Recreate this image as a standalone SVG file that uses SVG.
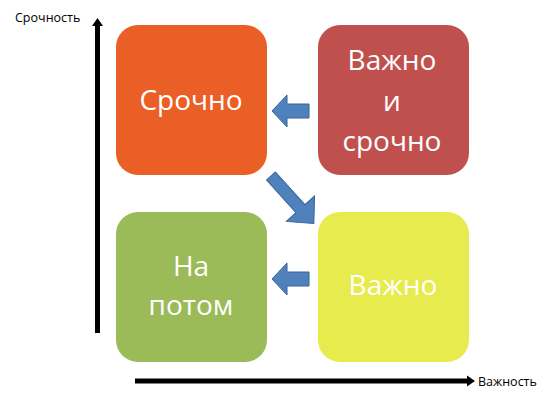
<svg xmlns="http://www.w3.org/2000/svg" width="550" height="402" viewBox="0 0 550 402">
<style>
.box text{font-family:"Open Sans","Liberation Sans",sans-serif;font-size:28px;fill:#ffffff;text-anchor:middle}
.axis-label{font-family:"Open Sans","Liberation Sans",sans-serif;font-size:12.5px;fill:#000}
.barrow{fill:#4F81BD;stroke:#3A6496;stroke-width:1}
</style>
<rect width="550" height="402" fill="#ffffff"/>
<g id="axes">
<rect x="95" y="25" width="5" height="308" fill="#000"/>
<polygon points="97.5,18 103,26 92,26" fill="#000"/>
<rect x="135" y="378.5" width="333" height="5" fill="#000"/>
<polygon points="475,381 467,375.5 467,386.5" fill="#000"/>
<text class="axis-label" x="15" y="22">Срочность</text>
<text class="axis-label" x="478" y="386">Важность</text>
</g>
<g id="node-urgent" class="box">
<rect x="116" y="25" width="151" height="150" rx="22" fill="#EA5F26"/>
<text x="191" y="110">Срочно</text>
</g>
<g id="node-important-urgent" class="box">
<rect x="318" y="25" width="151" height="150" rx="22" fill="#C0504D"/>
<text x="392" y="70">Важно</text>
<text x="392" y="111">и</text>
<text x="392" y="151">срочно</text>
</g>
<g id="node-later" class="box">
<rect x="116" y="212" width="151" height="150" rx="22" fill="#9BBB59"/>
<text x="191" y="276">На</text>
<text x="191" y="315">потом</text>
</g>
<g id="node-important" class="box">
<rect x="318" y="212" width="151" height="150" rx="22" fill="#E7EB4D"/>
<text x="393" y="295">Важно</text>
</g>
<g id="connectors">
<polygon class="barrow" points="272,111 287,95 287,104 309,104 309,118 287,118 287,127"/>
<polygon class="barrow" points="272,279 287,263 287,272 309,272 309,286 287,286 287,295"/>
<polygon class="barrow" transform="translate(271,176) rotate(48)" points="0,-6 44,-6 44,-19 64,0 44,19 44,6 0,6"/>
</g>
</svg>
